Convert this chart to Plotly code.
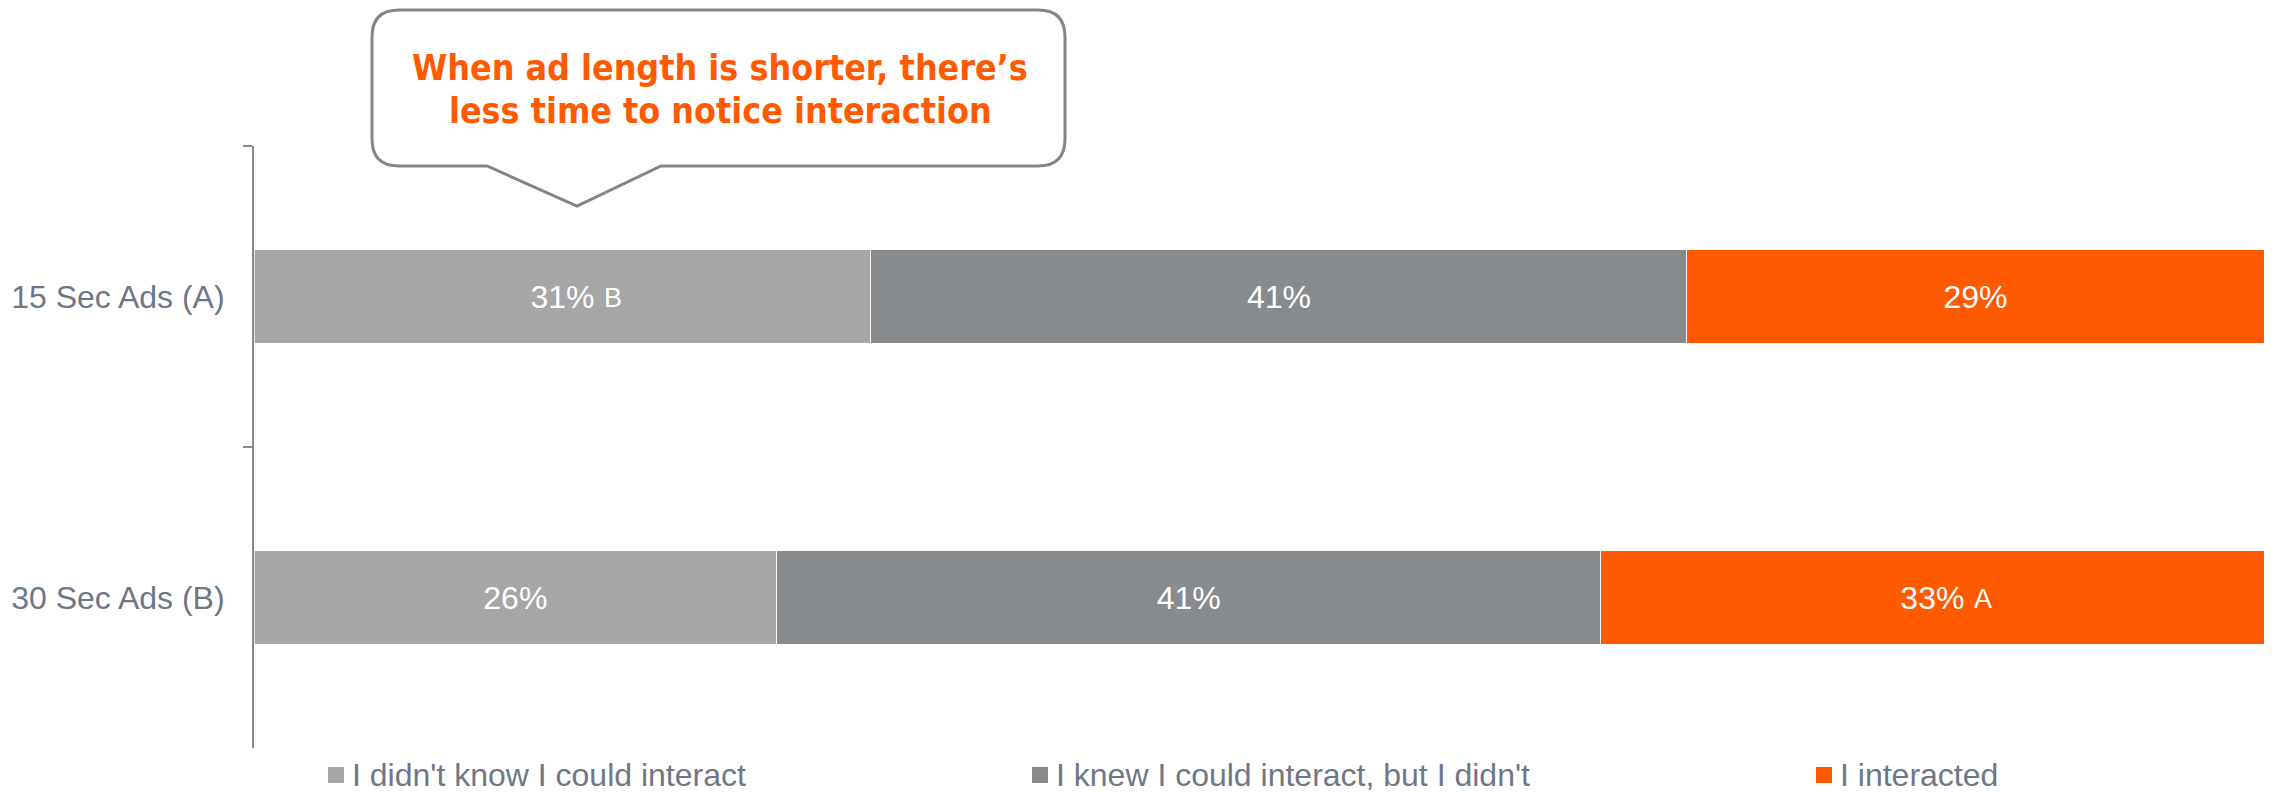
import plotly.graph_objects as go

# ---- data -------------------------------------------------------------
categories = ["15 Sec Ads (A)", "30 Sec Ads (B)"]
series_names = [
    "I didn't know I could interact",
    "I knew I could interact, but I didn't",
    "I interacted",
]
didnt_know = [31, 26]
knew_didnt = [41, 41]
interacted = [29, 33]

# significance letters shown next to a segment's value
sig_didnt_know = ["B", ""]
sig_knew_didnt = ["", ""]
sig_interacted = ["", "A"]

callout_lines = ["When ad length is shorter, there’s", "less time to notice interaction"]

# ---- style ------------------------------------------------------------
colors = ["#A6A6A6", "#888B8E", "#FF5A00"]
label_color = "#6F7786"
axis_color = "#8A8A8A"
font_family = "Liberation Sans, Arial, sans-serif"
narrow_bold = "Liberation Sans Narrow, Arial Narrow, DejaVu Sans Condensed, sans-serif"

W, H = 2274, 792
PLOT_L, PLOT_R, PLOT_T, PLOT_B = 254, 2264, 146, 748


def px(x):
    return (x - PLOT_L) / (PLOT_R - PLOT_L)


def py(y):
    return (PLOT_B - y) / (PLOT_B - PLOT_T)


series_values = [didnt_know, knew_didnt, interacted]
series_sig = [sig_didnt_know, sig_knew_didnt, sig_interacted]

fig = go.Figure()

for name, vals, col in zip(series_names, series_values, colors):
    fig.add_trace(go.Bar(
        y=categories,
        x=vals,
        name=name,
        orientation="h",
        marker=dict(color=col, line=dict(color="rgba(255,255,255,0.7)", width=1)),
        text=[f"{v}%" for v in vals],
        textposition="inside",
        insidetextanchor="middle",
        textangle=0,
        constraintext="none",
        textfont=dict(family=font_family, size=32, color="white"),
        width=0.312,
        showlegend=False,
        hoverinfo="skip",
    ))

annotations = []
shapes = []

# significance letters beside the segment labels
totals = [sum(s[j] for s in series_values) for j in range(len(categories))]
for j, cat in enumerate(categories):
    start = 0
    for vals, sigs in zip(series_values, series_sig):
        centre = (start + vals[j] / 2) / totals[j] * 100
        if sigs[j]:
            annotations.append(dict(
                x=centre, y=cat, xref="x", yref="y", text=sigs[j],
                showarrow=False, xanchor="left", yanchor="middle",
                xshift=40, yshift=-1,
                font=dict(family=font_family, size=27, color="white"),
            ))
        start += vals[j]

# legend row: colour key squares followed by the series names
legend_sq_x = [328, 1032, 1816]
legend_y = 775
for x0, name, col in zip(legend_sq_x, series_names, colors):
    shapes.append(dict(
        type="rect", xref="paper", yref="paper",
        x0=px(x0), x1=px(x0 + 16), y0=py(legend_y + 8), y1=py(legend_y - 8),
        fillcolor=col, line=dict(width=0),
    ))
    annotations.append(dict(
        x=px(x0 + 22), y=py(legend_y), xref="paper", yref="paper", text=name,
        showarrow=False, xanchor="left", yanchor="middle",
        font=dict(family=font_family, size=32, color=label_color),
    ))

# callout text
for line, yc in zip(callout_lines, [68, 110]):
    annotations.append(dict(
        x=px(720), y=py(yc), xref="paper", yref="paper", text=f"<b>{line}</b>",
        showarrow=False, xanchor="center", yanchor="middle",
        font=dict(family=narrow_bold, size=35.5, color="#FF5A00"),
    ))

# speech-bubble outline
bx0, bx1, by0, by1, r = 372, 1065, 10, 166, 27
tip_l, tip_r, tip_x, tip_y = 487, 661, 577, 206


def P(x, y):
    return f"{px(x):.5f},{py(y):.5f}"


bubble = (
    f"M{P(bx0 + r, by0)} L{P(bx1 - r, by0)} Q{P(bx1, by0)} {P(bx1, by0 + r)} "
    f"L{P(bx1, by1 - r)} Q{P(bx1, by1)} {P(bx1 - r, by1)} "
    f"L{P(tip_r, by1)} L{P(tip_x, tip_y)} L{P(tip_l, by1)} "
    f"L{P(bx0 + r, by1)} Q{P(bx0, by1)} {P(bx0, by1 - r)} "
    f"L{P(bx0, by0 + r)} Q{P(bx0, by0)} {P(bx0 + r, by0)} Z"
)
shapes.append(dict(
    type="path", path=bubble, xref="paper", yref="paper",
    line=dict(color="#858585", width=3), fillcolor="white", layer="above",
))

fig.update_layout(
    width=W, height=H,
    margin=dict(l=PLOT_L, r=W - PLOT_R, t=PLOT_T, b=H - PLOT_B, autoexpand=False),
    barmode="stack",
    barnorm="percent",
    showlegend=False,
    paper_bgcolor="white",
    plot_bgcolor="white",
    font=dict(family=font_family, color=label_color),
    xaxis=dict(visible=False, range=[0, 100], fixedrange=True),
    yaxis=dict(
        type="category",
        categoryorder="array",
        categoryarray=categories,
        range=[len(categories) - 0.5, -0.5],
        tickson="boundaries",
        ticks="outside",
        ticklen=9,
        tickwidth=2,
        tickcolor=axis_color,
        showline=True,
        linecolor=axis_color,
        linewidth=2,
        showgrid=False,
        zeroline=False,
        ticklabelstandoff=21,
        tickfont=dict(family=font_family, size=32, color=label_color),
        fixedrange=True,
    ),
    annotations=annotations,
    shapes=shapes,
)

fig.write_html("out.html")
